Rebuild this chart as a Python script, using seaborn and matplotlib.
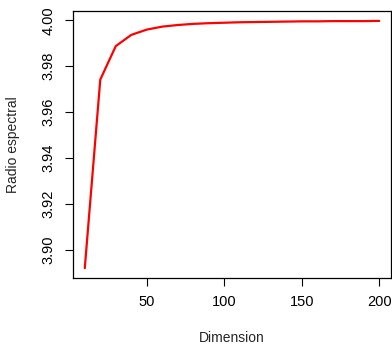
import matplotlib
matplotlib.use("Agg")
import matplotlib.pyplot as plt
import seaborn as sns
import pandas as pd

dimension = [10, 20, 30, 40, 50, 60, 70, 80, 90, 100,
             110, 120, 130, 140, 150, 160, 170, 180, 190, 200]
radio = [3.8920, 3.9742, 3.9888, 3.9937, 3.9960, 3.9973, 3.9980, 3.9985, 3.9988, 3.9990,
         3.9992, 3.9993, 3.9994, 3.9995, 3.9996, 3.9996, 3.9997, 3.9997, 3.9997, 3.9998]
x_ticks = [50, 100, 150, 200]
y_ticks = [3.90, 3.92, 3.94, 3.96, 3.98, 4.00]

sns.set_style("white")
plt.rcParams['font.family'] = ['Liberation Sans', 'DejaVu Sans']

df = pd.DataFrame({"Dimension": dimension, "Radio espectral": radio})

fig = plt.figure(figsize=(3.92, 3.44), dpi=100)
W, H = 392, 344
ax = fig.add_axes([73 / W, (H - 278) / H, (391 - 73) / W, (278 - 11) / H])

sns.lineplot(data=df, x="Dimension", y="Radio espectral", color="#ff0000",
             linewidth=1.6, ax=ax)

xr = max(dimension) - min(dimension)
ax.set_xlim(min(dimension) - 0.04 * xr, max(dimension) + 0.04 * xr)
yr = max(radio) - min(radio)
ax.set_ylim(min(radio) - 0.04 * yr, max(radio) + 0.04 * yr)

ax.set_xticks(x_ticks)
ax.set_xticklabels([str(v) for v in x_ticks])
ax.set_yticks(y_ticks)
ax.set_yticklabels([f"{v:.2f}" for v in y_ticks], rotation=90, va="center")

for s in ax.spines.values():
    s.set_visible(True)
    s.set_color("black")
    s.set_linewidth(0.9)

ax.tick_params(axis="both", which="major", direction="out", length=6, width=0.8,
               color="black", labelsize=10.5, labelcolor="black", bottom=True, left=True)
ax.tick_params(axis="x", pad=6.5)
ax.tick_params(axis="y", pad=6.5)

ax.set_xlabel("Dimension", fontsize=10, va="center")
ax.xaxis.set_label_coords(0.5, (278 - 338) / 267)
ax.set_ylabel("Radio espectral", fontsize=10, va="center")
ax.yaxis.set_label_coords((13 - 73) / 318, 0.5)

fig.savefig("out.png", dpi=100)
